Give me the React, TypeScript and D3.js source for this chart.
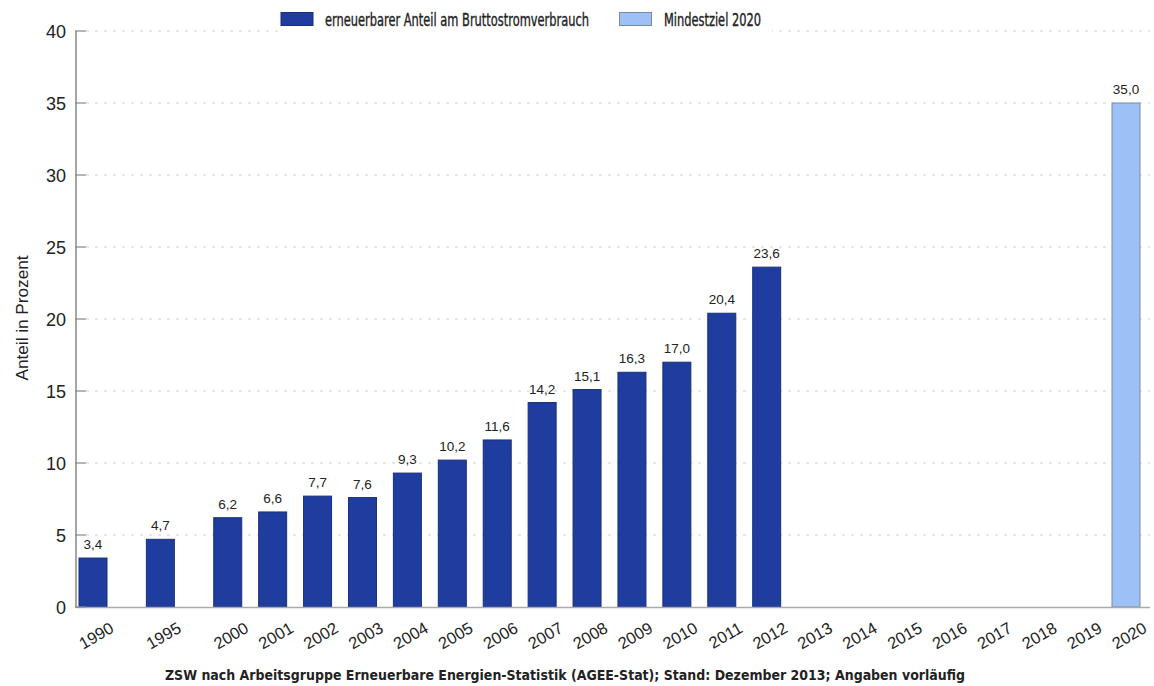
import React from "react";
import * as d3 from "d3";

const years = ["1990","1995","2000","2001","2002","2003","2004","2005","2006","2007","2008","2009","2010","2011","2012","2013","2014","2015","2016","2017","2018","2019","2020"];
// slot positions along the axis (1990 and 1995 are spaced 1.5 slots apart)
const slots = [0, 1.5, 3, 4, 5, 6, 7, 8, 9, 10, 11, 12, 13, 14, 15, 16, 17, 18, 19, 20, 21, 22, 23];
const shareValues: (number | null)[] = [3.4, 4.7, 6.2, 6.6, 7.7, 7.6, 9.3, 10.2, 11.6, 14.2, 15.1, 16.3, 17.0, 20.4, 23.6, null, null, null, null, null, null, null, null];
const targetValues: (number | null)[] = [null, null, null, null, null, null, null, null, null, null, null, null, null, null, null, null, null, null, null, null, null, null, 35.0];
const yTicks = [0, 5, 10, 15, 20, 25, 30, 35, 40];
const legendLabels = ["erneuerbarer Anteil am Bruttostromverbrauch", "Mindestziel 2020"];
const caption = "ZSW nach Arbeitsgruppe Erneuerbare Energien-Statistik (AGEE-Stat); Stand: Dezember 2013; Angaben vorläufig";

const W = 1154, H = 686;
const DARK = "#1f3d9e";
const DARK_STROKE = "#1a2f7a";
const LIGHT = "#9dc0f7";
const LIGHT_STROKE = "#7a8aa0";
const TEXT = "#222";
const numFont = "'Liberation Sans', Arial, sans-serif";
const condFont = "'DejaVu Sans Condensed', 'Liberation Sans Narrow', sans-serif";

export default function App() {
  const x = d3.scaleLinear().domain([0, 23]).range([93, 1126]);
  const y = d3.scaleLinear().domain([0, 40]).range([607, 31]);
  const barW = 28;
  const fmt = (v: number) => d3.format(".1f")(v).replace(".", ",");
  const legSX = 0.72;

  const drawBars = (vals: (number | null)[], fill: string, stroke: string, key: string) =>
    vals.map((v, i) => {
      if (v == null) return null;
      const cx = x(slots[i]);
      return (
        <g key={key + i}>
          <rect x={cx - barW / 2} y={y(v)} width={barW} height={y(0) - y(v)} fill={fill} stroke={stroke} strokeWidth={1} />
          <text x={cx} y={y(v) - 9} textAnchor="middle" fontFamily={numFont} fontSize={13.5} fill={TEXT}>{fmt(v)}</text>
        </g>
      );
    });

  return (
    <svg width={W} height={H} style={{ position: "absolute", left: 0, top: 0, background: "#fff" }}>
      <rect x={0} y={0} width={W} height={H} fill="#fff" />
      {/* gridlines */}
      {yTicks.filter(t => t > 0).map(t => (
        <line key={"g" + t} x1={86} x2={1150} y1={y(t)} y2={y(t)} stroke="#d0d0d0" strokeWidth={1.2} strokeDasharray="3,6" />
      ))}
      {/* legend background */}
      <rect x={278} y={6} width={494} height={32} fill="#fff" />
      <rect x={281} y={12.5} width={32} height={13} fill={DARK} stroke={DARK_STROKE} strokeWidth={1} />
      <text transform={`translate(325,25.5) scale(${legSX},1)`} fontFamily={condFont} fontSize={17} fill={TEXT} stroke={TEXT} strokeWidth={0.35} textLength={264 / legSX} lengthAdjust="spacingAndGlyphs">{legendLabels[0]}</text>
      <rect x={619.5} y={12.5} width={32} height={13} fill={LIGHT} stroke={LIGHT_STROKE} strokeWidth={1} />
      <text transform={`translate(664,25.5) scale(${legSX},1)`} fontFamily={condFont} fontSize={17} fill={TEXT} stroke={TEXT} strokeWidth={0.35} textLength={97 / legSX} lengthAdjust="spacingAndGlyphs">{legendLabels[1]}</text>

      {/* bars */}
      {drawBars(shareValues, DARK, DARK_STROKE, "s")}
      {drawBars(targetValues, LIGHT, LIGHT_STROKE, "t")}

      {/* axes */}
      <line x1={76} x2={76} y1={31} y2={608} stroke="#888" strokeWidth={1.5} />
      <line x1={76} x2={1150} y1={607.5} y2={607.5} stroke="#aaa" strokeWidth={1.5} />
      {yTicks.map(t => (
        <g key={"t" + t}>
          <line x1={75} x2={86} y1={y(t)} y2={y(t)} stroke="#888" strokeWidth={1.2} />
          <text x={66} y={y(t) + 6.5} textAnchor="end" fontFamily={numFont} fontSize={18} fill={TEXT}>{t}</text>
        </g>
      ))}
      {years.map((yr, i) => {
        const cx = x(slots[i]) + 16;
        return (
          <text key={"x" + yr} transform={`translate(${cx},${621}) rotate(-30)`} textAnchor="end" dominantBaseline="hanging" fontFamily={numFont} fontSize={16.5} fill={TEXT}>{yr}</text>
        );
      })}
      <text transform={`translate(28,318) rotate(-90)`} textAnchor="middle" fontFamily="'Liberation Sans Narrow', 'Liberation Sans', sans-serif" fontSize={16} fill={TEXT} textLength={125} lengthAdjust="spacingAndGlyphs">Anteil in Prozent</text>
      <text x={165} y={680} fontFamily={condFont} fontSize={14} fontWeight="bold" fill={TEXT} textLength={800} lengthAdjust="spacingAndGlyphs">{caption}</text>
    </svg>
  );
}
